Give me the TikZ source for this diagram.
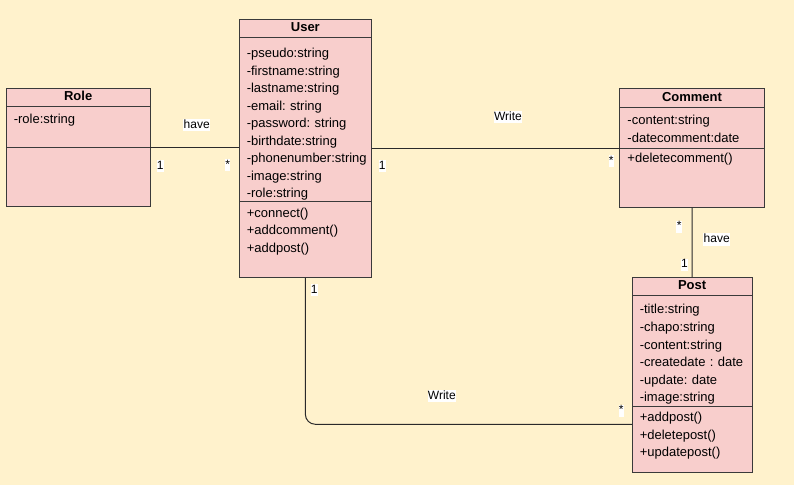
\documentclass[tikz,border=0pt]{standalone}
\usepackage{fontspec}
\setmainfont{Liberation Sans}
\usetikzlibrary{positioning}
\frenchspacing

\newdimen\px \px=0.75pt
\definecolor{bgyellow}{HTML}{FFF2CC}
\definecolor{classfill}{HTML}{F8CECC}
\definecolor{classline}{HTML}{3A3A3A}
\definecolor{assocline}{HTML}{2A2A2A}

\begin{document}
\begin{tikzpicture}[
    x = 0.75pt, y = -0.75pt,
    compart/.style = {draw = classline, fill = classfill, line width = 1\px,
      inner sep = 0pt, outer sep = 0pt, anchor = north},
    head/.style = {compart, minimum height = 18.5\px,
      font = \fontsize{9.75}{12}\selectfont\bfseries,
      text height = 7pt, text depth = 2.8pt},
    members/.style = {anchor = base west, align = left, inner sep = 0pt,
      text width = 120\px, font = \fontsize{9.75}{13.15}\selectfont},
    assoc/.style = {draw = assocline, line width = 1\px},
    lab/.style = {fill = white, inner sep = 0.3pt, text height = 6.6pt,
      text depth = 1.9pt, font = \fontsize{9}{10}\selectfont}
  ]
  \useasboundingbox (0,0) rectangle (794,485);
  \fill[bgyellow] (0,0) rectangle (794,485);

  % Role
  \node[head, minimum width = 144.3\px] (role-head) at (78.15, 88.5) {Role};
  \node[compart, minimum width = 144.3\px, minimum height = 41\px,
    below = 0pt of role-head] (role-attr) {};
  \node[compart, minimum width = 144.3\px, minimum height = 59\px,
    below = 0pt of role-attr] (role-meth) {};
  \node[members] (role-attrs) at ([xshift = 7.5\px, yshift = -17\px] role-attr.north west)
    {-role:string};

  % User
  \node[head, minimum width = 132.7\px] (user-head) at (305.35, 19.3) {User};
  \node[compart, minimum width = 132.7\px, minimum height = 164\px,
    below = 0pt of user-head] (user-attr) {};
  \node[compart, minimum width = 132.7\px, minimum height = 76\px,
    below = 0pt of user-attr] (user-meth) {};
  \node[members] (user-attrs) at ([xshift = 7.5\px, yshift = -19.8\px] user-attr.north west)
    {-pseudo:string\\ -firstname:string\\ -lastname:string\\ -email: string\\
     -password: string\\ -birthdate:string\\ -phonenumber:string\\
     -image:string\\ -role:string};
  \node[members] (user-meths) at ([xshift = 7.5\px, yshift = -15.6\px] user-meth.north west)
    {+connect()\\ +addcomment()\\ +addpost()};

  % Comment
  \node[head, minimum width = 144.6\px] (comment-head) at (692, 89) {Comment};
  \node[compart, minimum width = 144.6\px, minimum height = 41\px,
    below = 0pt of comment-head] (comment-attr) {};
  \node[compart, minimum width = 144.6\px, minimum height = 59.2\px,
    below = 0pt of comment-attr] (comment-meth) {};
  \node[members] (comment-attrs) at ([xshift = 7.5\px, yshift = -17\px] comment-attr.north west)
    {-content:string\\ -datecomment:date};
  \node[members] (comment-meths) at ([xshift = 7.5\px, yshift = -14\px] comment-meth.north west)
    {+deletecomment()};

  % Post
  \node[head, minimum width = 120.3\px] (post-head) at (692.15, 277.3) {Post};
  \node[compart, minimum width = 120.3\px, minimum height = 111\px,
    below = 0pt of post-head] (post-attr) {};
  \node[compart, minimum width = 120.3\px, minimum height = 66\px,
    below = 0pt of post-attr] (post-meth) {};
  \node[members] (post-attrs) at ([xshift = 7.5\px, yshift = -18.2\px] post-attr.north west)
    {-title:string\\ -chapo:string\\ -content:string\\ -createdate : date\\
     -update: date\\ -image:string};
  \node[members] (post-meths) at ([xshift = 7.5\px, yshift = -15\px] post-meth.north west)
    {+addpost()\\ +deletepost()\\ +updatepost()};

  % Associations
  \draw[assoc] (role-meth.north east) -- (role-meth.north east -| user-attr.west);
  \draw[assoc] (comment-meth.north west -| user-attr.east) -- (comment-meth.north west);
  \draw[assoc] (comment-meth.south) -- (post-head.north);
  \draw[assoc, rounded corners = 10\px]
    (user-meth.south) |- ([yshift = -17.5\px] post-meth.north west);

  % Labels
  \begin{scope}[nodes = lab]
    \node (role-have)   at (196.7, 125)   {have};
    \node (role-one)    at (160.3, 166)   {1};
    \node (role-many)   at (227.7, 165)   {*};
    \node (comm-write)  at (508, 117)     {Write};
    \node (comm-one)    at (382.3, 166)   {1};
    \node (comm-many)   at (611.3, 161.3) {*};
    \node (post-many)   at (679.2, 226.7) {*};
    \node (post-have)   at (716.7, 239.5) {have};
    \node (post-one)    at (684.5, 264.8) {1};
    \node (write-one)   at (314.3, 290)   {1};
    \node (post-write)  at (441.8, 396)   {Write};
    \node (write-many)  at (621.3, 410.8) {*};
  \end{scope}

\end{tikzpicture}
\end{document}
